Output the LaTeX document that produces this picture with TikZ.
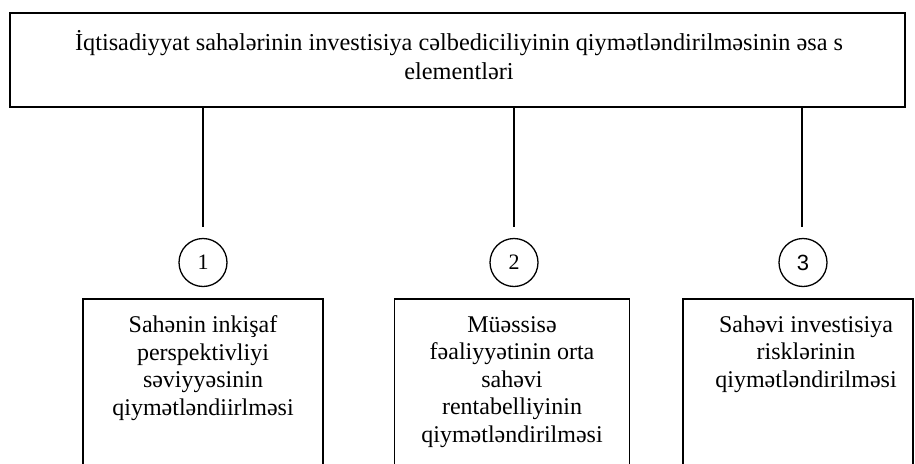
\documentclass[tikz,border=0pt]{standalone}
\usepackage{fontspec}
\setmainfont{Liberation Serif}
\newfontfamily\digitsans{Liberation Sans}
\begin{document}
\begin{tikzpicture}[x=1pt,y=-1pt,
  frame/.style={draw, line width=1.7pt, rectangle, inner sep=0pt},
  label/.style={inner sep=0pt, align=center, font=\fontsize{24}{27.5}\selectfont},
  num/.style={draw, circle, line width=1.3pt, minimum size=48pt, inner sep=0pt,
              font=\fontsize{22}{26}\selectfont},
  link/.style={line width=1.5pt}]
\useasboundingbox (0,0) rectangle (915,463);
\clip (0,0) rectangle (915,463);

% heading box
\node[frame, minimum width=895pt, minimum height=94pt] (top) at (457.5,60) {};
\node[label, anchor=north, font=\fontsize{24.3}{29}\selectfont] (title) at (459,30)
  {İqtisadiyyat sahələrinin investisiya cəlbediciliyinin qiymətləndirilməsinin əsa s\\ elementləri};

% free ends of the three drop lines
\coordinate (e1) at (203,227);
\coordinate (e2) at (514,227);
\coordinate (e3) at (802,227);
\draw[link] (top.south -| e1) -- (e1);
\draw[link] (top.south -| e2) -- (e2);
\draw[link] (top.south -| e3) -- (e3);

% numbered circles
\node[num] (n1) at (203,262.5) {1};
\node[num] (n2) at (514,262.5) {2};
\node[num] (n3) at (803,262.5) {\digitsans 3};

% element boxes (they continue below the lower edge)
\node[frame, anchor=north, minimum width=240pt, minimum height=220pt] (b1) at (203,298) {};
\node[frame, anchor=north, minimum width=235pt, minimum height=220pt] (b2) at (512,298) {};
\node[frame, anchor=north, minimum width=230pt, minimum height=220pt] (b3) at (798,298) {};

\node[label, anchor=north] (t1) at (203,315.5)
  {Sahənin inkişaf\\ perspektivliyi\\ səviyyəsinin\\ qiymətləndiirlməsi};
\node[label, anchor=north] (t2) at (512,316)
  {Müəssisə\\ fəaliyyətinin orta\\ sahəvi\\ rentabelliyinin\\ qiymətləndirilməsi};
\node[label, anchor=north] (t3) at (806,315.5)
  {Sahəvi investisiya\\ risklərinin\\ qiymətləndirilməsi};
\end{tikzpicture}
\end{document}
